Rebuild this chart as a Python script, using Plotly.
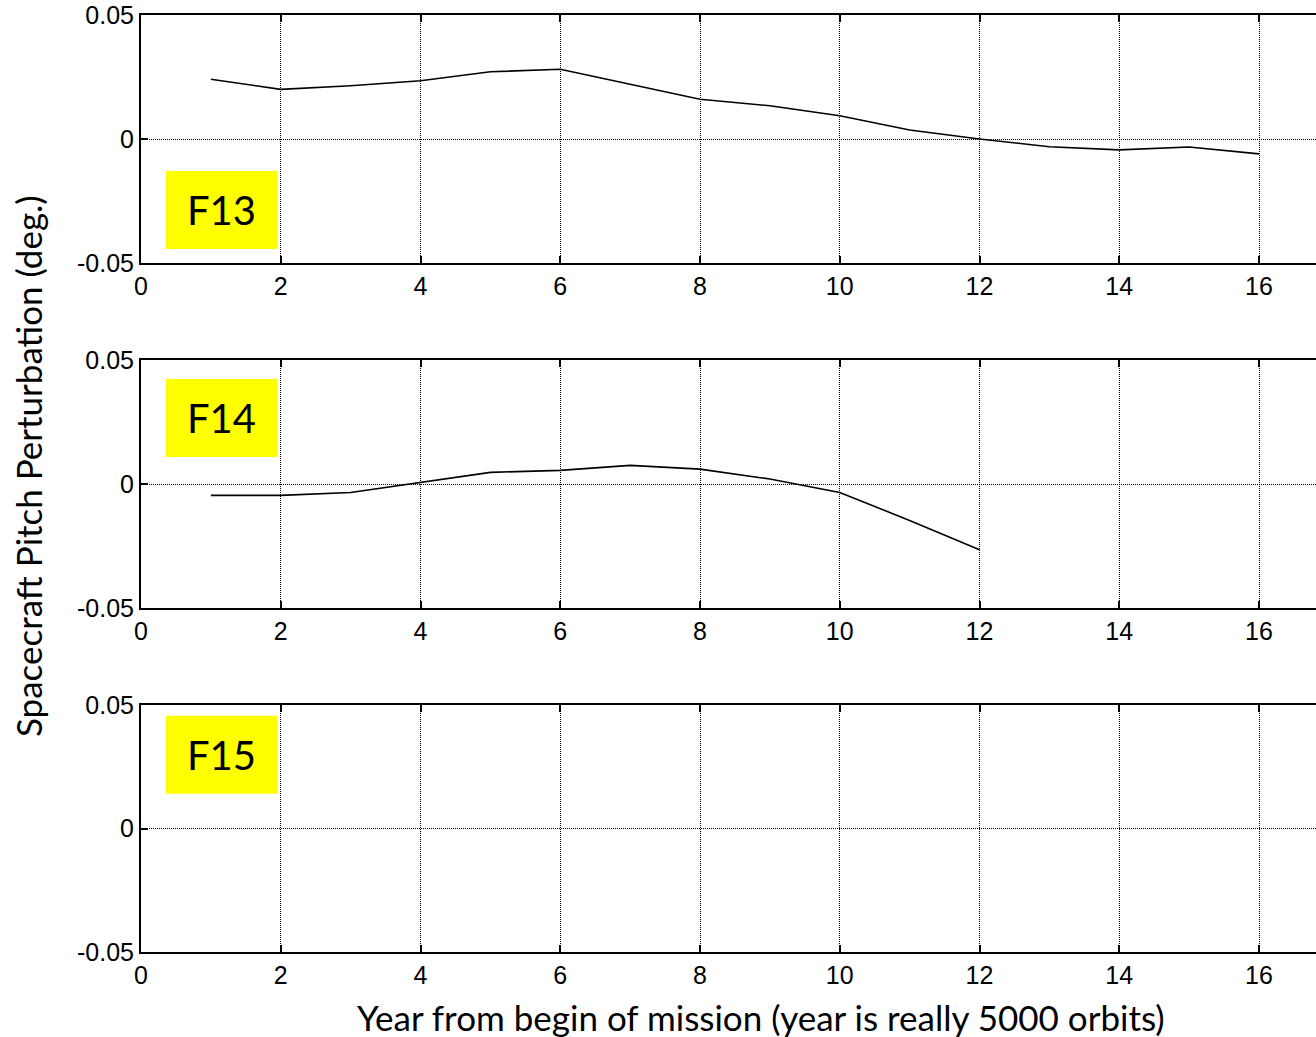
import plotly.graph_objects as go
from plotly.subplots import make_subplots

years = [1, 2, 3, 4, 5, 6, 7, 8, 9, 10, 11, 12, 13, 14, 15, 16]
f13_pitch = [0.0241, 0.0200, 0.0215, 0.0235, 0.0271, 0.0281, 0.0221, 0.0160,
             0.0134, 0.0094, 0.0036, 0.0000, -0.0031, -0.0044, -0.0032, -0.0060]
years_f14 = [1, 2, 3, 4, 5, 6, 7, 8, 9, 10, 11, 12]
f14_pitch = [-0.0046, -0.0046, -0.0034, 0.0006, 0.0047, 0.0055, 0.0075, 0.0060,
             0.0020, -0.0034, -0.0147, -0.0265]
years_f15 = []
f15_pitch = []
panel_labels = ["F13", "F14", "F15"]
x_ticks = [0, 2, 4, 6, 8, 10, 12, 14, 16]
y_ticks = [-0.05, 0, 0.05]
y_tick_text = ["-0.05", "0", "0.05"]

W, H = 1316, 1037
ML, MR, MT, MB = 141, 0, 15, 85

fig = make_subplots(rows=3, cols=1, shared_xaxes=False, vertical_spacing=0.1)

series = [(years, f13_pitch), (years_f14, f14_pitch), (years_f15, f15_pitch)]
for i, (xs, ys) in enumerate(series, start=1):
    fig.add_trace(go.Scatter(x=xs, y=ys, mode="lines",
                             line=dict(color="black", width=1.6),
                             showlegend=False), row=i, col=1)

plot_h = H - MT - MB
def dom(top_px, bot_px):
    return [(H - MB - bot_px) / plot_h, (H - MB - top_px) / plot_h]

domains = [dom(15, 263), dom(360, 608), dom(705, 952)]
xmax = (W - ML) / ((1259 - 141) / 16)

tick_font = dict(family="Liberation Sans, Arial, sans-serif", size=25, color="black")
for i in range(3):
    sfx = "" if i == 0 else str(i + 1)
    fig.layout["xaxis" + sfx].update(
        range=[0, xmax], tickvals=x_ticks, ticktext=[str(v) for v in x_ticks],
        showline=True, linecolor="black", linewidth=2, mirror="ticks",
        ticks="inside", ticklen=7, tickcolor="black", tickwidth=1.5,
        showgrid=True, gridcolor="black", griddash="1px,1px", gridwidth=1.2,
        zeroline=False, tickfont=tick_font, ticklabelstandoff=0)
    fig.layout["yaxis" + sfx].update(
        domain=domains[i], range=[-0.05, 0.05], tickvals=y_ticks, ticktext=y_tick_text,
        showline=True, linecolor="black", linewidth=2, mirror=False,
        ticks="inside", ticklen=7, tickcolor="black", tickwidth=1.5,
        showgrid=True, gridcolor="black", griddash="1px,1px", gridwidth=1.2,
        zeroline=False, tickfont=tick_font)

# yellow labels
box_pos = [(-0.0129, -0.0444), (0.0423, 0.0109), (0.0456, 0.0141)]
for i, (lab, (ytop, ybot)) in enumerate(zip(panel_labels, box_pos)):
    sfx = "" if i == 0 else str(i + 1)
    fig.add_shape(type="rect", xref="x" + sfx, yref="y" + sfx,
                  x0=0.358, x1=1.947, y0=ybot, y1=ytop,
                  fillcolor="#ffff00", line=dict(width=0), layer="above")
    fig.add_annotation(xref="x" + sfx, yref="y" + sfx, x=(0.358 + 1.947) / 2,
                       y=(ytop + ybot) / 2, text=lab, showarrow=False,
                       font=dict(family="Lato, Open Sans, sans-serif", size=40, color="black"))

title_font = dict(family="Lato, Open Sans, sans-serif", size=35, color="black")
fig.add_annotation(xref="paper", yref="paper",
                   x=(761 - ML) / (W - ML - MR), y=(H - MB - 1017) / plot_h,
                   text="Year from begin of mission (year is really 5000 orbits)",
                   showarrow=False, font=title_font, xanchor="center", yanchor="middle")
fig.add_annotation(xref="paper", yref="paper",
                   x=(28 - ML) / (W - ML - MR), y=(H - MB - 466) / plot_h,
                   text="Spacecraft Pitch Perturbation (deg.)", textangle=-90,
                   showarrow=False, font=title_font, xanchor="center", yanchor="middle")

fig.update_layout(width=W, height=H, margin=dict(l=ML, r=MR, t=MT, b=MB),
                  plot_bgcolor="white", paper_bgcolor="white")
fig.write_html("out.html", config={"displayModeBar": False},
               post_script="document.body.style.margin='0';document.body.style.overflow='hidden';")
